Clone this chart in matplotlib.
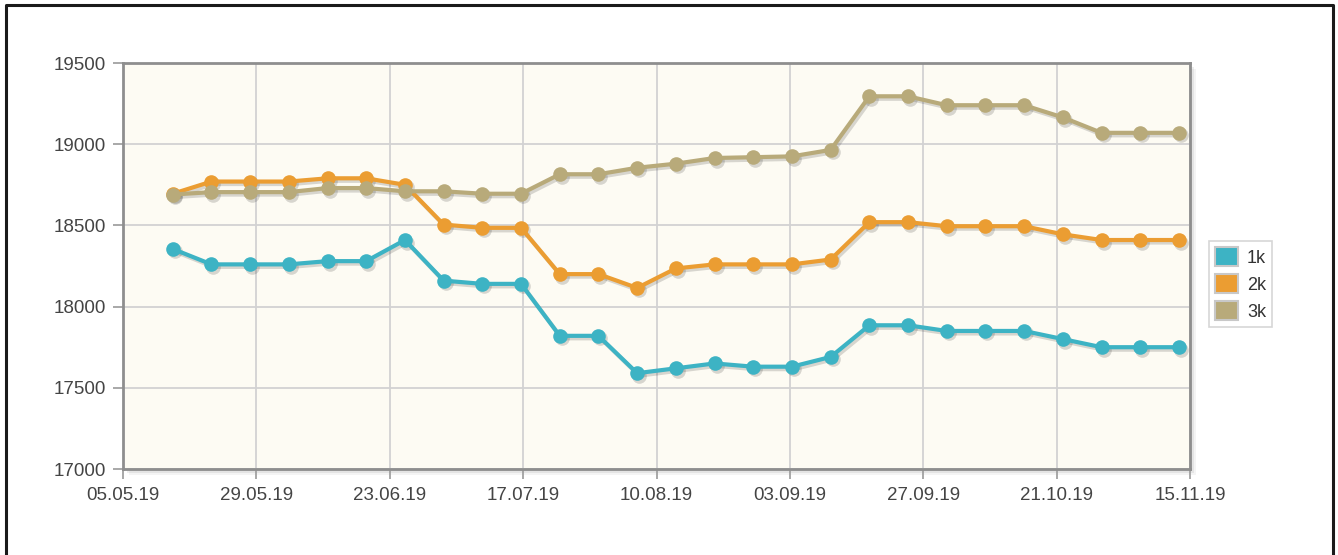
import matplotlib
matplotlib.use("Agg")
import matplotlib.pyplot as plt
import matplotlib.dates as mdates
from matplotlib.lines import Line2D
from matplotlib.patches import Patch, Rectangle
from matplotlib.transforms import offset_copy
import numpy as np

plt.rcParams["font.family"] = ["Liberation Sans", "DejaVu Sans"]

# weekly observation dates
dates = [
    "2019-05-14", "2019-05-21", "2019-05-28", "2019-06-04", "2019-06-11",
    "2019-06-18", "2019-06-25", "2019-07-02", "2019-07-09", "2019-07-16",
    "2019-07-23", "2019-07-30", "2019-08-06", "2019-08-13", "2019-08-20",
    "2019-08-27", "2019-09-03", "2019-09-10", "2019-09-17", "2019-09-24",
    "2019-10-01", "2019-10-08", "2019-10-15", "2019-10-22", "2019-10-29",
    "2019-11-05", "2019-11-12",
]

s1k = [18355, 18260, 18260, 18260, 18280, 18280, 18410, 18160, 18140, 18140,
       17820, 17820, 17590, 17620, 17650, 17630, 17630, 17690, 17885, 17885,
       17850, 17850, 17850, 17800, 17750, 17750, 17750]
s2k = [18695, 18770, 18770, 18770, 18790, 18790, 18750, 18505, 18485, 18485,
       18200, 18200, 18115, 18235, 18260, 18260, 18260, 18290, 18520, 18520,
       18495, 18495, 18495, 18445, 18410, 18410, 18410]
s3k = [18690, 18705, 18705, 18705, 18730, 18730, 18710, 18710, 18695, 18695,
       18815, 18815, 18855, 18880, 18915, 18920, 18925, 18965, 19295, 19295,
       19240, 19240, 19240, 19165, 19070, 19070, 19070]

series_names = ["1k", "2k", "3k"]
series_colors = ["#3db3c4", "#eb9d32", "#b8aa7a"]

x_start, x_end = "2019-05-05", "2019-11-14"
x_tick_labels = ["05.05.19", "29.05.19", "23.06.19", "17.07.19", "10.08.19",
                 "03.09.19", "27.09.19", "21.10.19", "15.11.19"]
y_ticks = [17000, 17500, 18000, 18500, 19000, 19500]

W, H = 1338, 555
fig = plt.figure(figsize=(W / 100, H / 100), dpi=100)
fig.patch.set_facecolor("white")

left, right, top, bottom = 123 / W, 1190 / W, 1 - 63 / H, 1 - 469 / H
ax = fig.add_axes([left, bottom, right - left, top - bottom])
ax.set_facecolor("#fdfbf3")
ax.set_zorder(2)

# soft shadow behind the plot frame
for off, a in [(6, 0.08), (4, 0.12), (2, 0.16)]:
    fig.patches.append(Rectangle((left + off / W, bottom - off / H), right - left, top - bottom,
                                 transform=fig.transFigure, facecolor="#777777", alpha=a,
                                 edgecolor="none", zorder=0))

x = mdates.date2num(np.array(dates, dtype="datetime64[D]"))
shadow_tr = offset_copy(ax.transData, fig=fig, x=2, y=-2.5, units="dots")

for vals, col in zip([s1k, s2k, s3k], series_colors):
    ax.plot(x, vals, color="#000000", alpha=0.15, lw=3.0, marker="o", ms=10.5,
            mec="none", transform=shadow_tr, zorder=3, clip_on=False)
    ax.plot(x, vals, color=col, lw=3.0, marker="o", ms=10.5, mec="none", zorder=4,
            clip_on=False)

x0 = mdates.date2num(np.datetime64(x_start))
x1 = mdates.date2num(np.datetime64(x_end))
ax.set_xlim(x0, x1)
ax.set_ylim(17000, 19500)
ax.set_xticks(np.linspace(x0, x1, len(x_tick_labels)))
ax.set_xticklabels(x_tick_labels)
ax.set_yticks(y_ticks)

ax.grid(True, color="#d2d2d2", lw=1.3)
ax.set_axisbelow(True)
for sp in ax.spines.values():
    sp.set_color("#8e8e8e")
    sp.set_linewidth(2.0)
    sp.set_zorder(5)
ax.tick_params(axis="both", colors="#9a9a9a", length=7, width=1.2, labelsize=13.5,
               labelcolor="#444444", pad=5)
ax.tick_params(axis="x", pad=6)

handles = [Patch(facecolor=c, edgecolor="#c8c8c8", linewidth=1.5, label=n)
           for n, c in zip(series_names, series_colors)]
leg = fig.legend(handles=handles, loc="upper left", bbox_to_anchor=(1209 / W, 1 - 241 / H),
                 bbox_transform=fig.transFigure, frameon=True, fontsize=13,
                 handlelength=1.25, handleheight=1.25, handletextpad=0.5,
                 labelspacing=0.4, borderpad=0.35, borderaxespad=0, fancybox=False)
leg.get_frame().set_edgecolor("#cccccc")
leg.get_frame().set_linewidth(1.2)
for t in leg.get_texts():
    t.set_color("#333333")

# outer frame (left, top, right edges)
fig.add_artist(Line2D([6 / W, 6 / W, 1333 / W, 1333 / W], [0, 1 - 5 / H, 1 - 5 / H, 0],
                      transform=fig.transFigure, color="#1a1a1a", lw=2.2))

fig.savefig("out.png", dpi=100, facecolor="white")
